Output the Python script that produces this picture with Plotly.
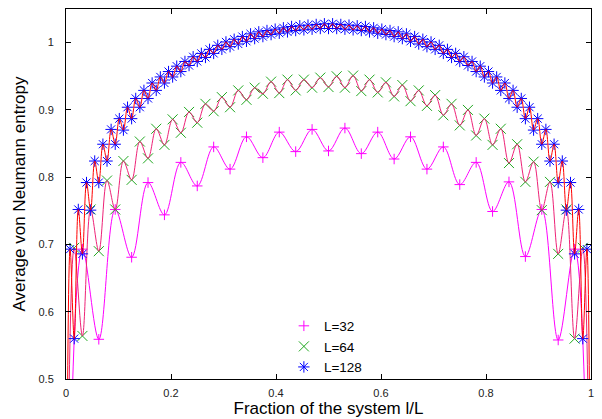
import plotly.graph_objects as go

# ---- data ----
sizes = [32, 64, 128]
labels = ["L=32", "L=64", "L=128"]

entropy_L32 = [0.693, 0.559, 0.752, 0.681, 0.792, 0.744, 0.822, 0.787, 0.845, 0.812,
               0.860, 0.829, 0.867, 0.838, 0.871, 0.839, 0.873, 0.835, 0.867, 0.827,
               0.860, 0.812, 0.845, 0.789, 0.822, 0.749, 0.793, 0.682, 0.752, 0.558,
               0.693]

entropy_L64 = [0.695, 0.564, 0.752, 0.690, 0.795, 0.752, 0.824, 0.796, 0.853, 0.828,
               0.872, 0.848, 0.886, 0.866, 0.897, 0.881, 0.909, 0.898, 0.919, 0.904,
               0.929, 0.915, 0.933, 0.924, 0.942, 0.925, 0.945, 0.929, 0.945, 0.933,
               0.948, 0.934, 0.950, 0.933, 0.951, 0.928, 0.945, 0.926, 0.941, 0.920,
               0.937, 0.913, 0.929, 0.906, 0.922, 0.892, 0.909, 0.877, 0.900, 0.862,
               0.887, 0.848, 0.872, 0.821, 0.849, 0.793, 0.823, 0.751, 0.793, 0.686,
               0.752, 0.560, 0.695]

entropy_L128 = [0.693, 0.560, 0.752, 0.686, 0.792, 0.751, 0.824, 0.792, 0.849, 0.824,
                0.871, 0.849, 0.887, 0.870, 0.904, 0.887, 0.917, 0.904, 0.929, 0.917,
                0.940, 0.929, 0.949, 0.940, 0.957, 0.949, 0.965, 0.957, 0.972, 0.966,
                0.979, 0.972, 0.984, 0.978, 0.990, 0.984, 0.996, 0.990, 1.001, 0.994,
                1.005, 0.998, 1.009, 1.002, 1.013, 1.006, 1.016, 1.009, 1.018, 1.012,
                1.020, 1.014, 1.022, 1.016, 1.024, 1.018, 1.025, 1.019, 1.026, 1.020,
                1.027, 1.021, 1.028, 1.021, 1.028, 1.021, 1.027, 1.020, 1.026, 1.019,
                1.025, 1.018, 1.024, 1.016, 1.022, 1.014, 1.020, 1.012, 1.018, 1.009,
                1.016, 1.006, 1.013, 1.002, 1.009, 0.998, 1.005, 0.994, 1.001, 0.990,
                0.996, 0.984, 0.990, 0.978, 0.984, 0.972, 0.979, 0.966, 0.972, 0.957,
                0.965, 0.949, 0.957, 0.940, 0.949, 0.929, 0.940, 0.917, 0.929, 0.904,
                0.917, 0.887, 0.904, 0.870, 0.887, 0.849, 0.871, 0.824, 0.849, 0.792,
                0.824, 0.751, 0.792, 0.686, 0.752, 0.560, 0.693]

boundary_entropy = 0.0  # S(l=0) = S(l=L) = 0

x_ticks = [0, 0.2, 0.4, 0.6, 0.8, 1]
x_ticktext = ["0", "0.2", "0.4", "0.6", "0.8", "1"]
y_ticks = [0.5, 0.6, 0.7, 0.8, 0.9, 1.0]
y_ticktext = ["0.5", "0.6", "0.7", "0.8", "0.9", "1"]

# ---- styles ----
marker_colors = ["#ff00ff", "#1fa81f", "#0000ff"]
line_colors = ["#ff00ff", "#ee2277", "#ff0000"]
symbols = ["cross-thin", "x-thin", "asterisk"]
msizes = [7.5, 10, 9.5]

series = [entropy_L32, entropy_L64, entropy_L128]

fig = go.Figure()
for L, name, vals, mc, lc, sym, ms in zip(sizes, labels, series, marker_colors,
                                          line_colors, symbols, msizes):
    frac = [l / L for l in range(1, L)]
    fig.add_trace(go.Scatter(
        x=frac, y=vals, mode="markers", name=name,
        marker=dict(symbol=sym, size=ms, color=mc,
                    line=dict(color=mc, width=1)),
        cliponaxis=True,
    ))
    fig.add_trace(go.Scatter(
        x=[0.0] + frac + [1.0],
        y=[boundary_entropy] + vals + [boundary_entropy],
        mode="lines", showlegend=False, hoverinfo="skip",
        line=dict(color=lc, width=1, shape="spline", smoothing=1.0),
    ))

axis_common = dict(
    showline=True, linecolor="black", linewidth=1, mirror="allticks",
    ticks="inside", ticklen=5, tickwidth=1, tickcolor="black",
    showgrid=False, zeroline=False,
    tickfont=dict(size=11, color="#222222"),
)

fig.update_layout(
    width=602, height=419,
    margin=dict(l=66, r=9, t=8, b=39),
    plot_bgcolor="white", paper_bgcolor="white",
    font=dict(family="Liberation Sans, Arial, sans-serif", color="black"),
    xaxis=dict(range=[0, 1], tickvals=x_ticks, ticktext=x_ticktext,
               ticklabelstandoff=4,
               title=dict(text="Fraction of the system l/L",
                          font=dict(size=17), standoff=0),
               **axis_common),
    yaxis=dict(range=[0.5, 1.05], tickvals=y_ticks, ticktext=y_ticktext,
               ticklabelstandoff=9,
               title=dict(text="Average von Neumann entropy",
                          font=dict(size=17), standoff=8),
               **axis_common),
    legend=dict(x=0.415, y=0.185, xanchor="left", yanchor="top",
                bgcolor="rgba(0,0,0,0)", font=dict(size=13.5),
                tracegroupgap=0),
    showlegend=True,
)

fig.write_html(
    "out.html",
    config={"displayModeBar": False},
    post_script="document.body.style.margin='0';document.body.style.overflow='hidden';",
)
